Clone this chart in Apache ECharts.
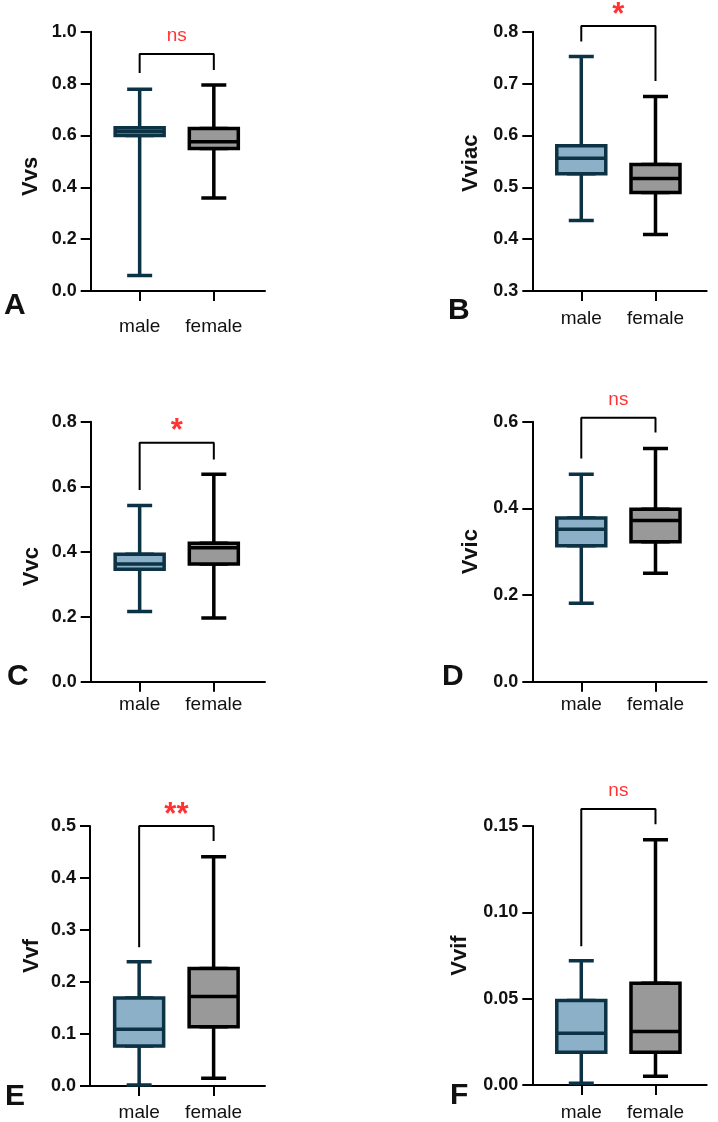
<!DOCTYPE html>
<html><head><meta charset="utf-8">
<script src="https://cdn.jsdelivr.net/npm/echarts@6/dist/echarts.min.js"></script>
<style>html,body{margin:0;padding:0;background:#fff}#c{width:718px;height:1122px}</style>
</head><body><div id="c"></div>
<script>
// ---------- data ----------
const categories = ['male', 'female'];
const yNames = ['Vvs', 'Vviac', 'Vvc', 'Vvic', 'Vvf', 'Vvif'];
const panelLetters = ['A', 'B', 'C', 'D', 'E', 'F'];
// five-number summaries [min, Q1, median, Q3, max]
const vvsMale     = [0.060, 0.600, 0.615, 0.630, 0.778];
const vvsFemale   = [0.359, 0.550, 0.576, 0.627, 0.794];
const vviacMale   = [0.436, 0.526, 0.556, 0.580, 0.752];
const vviacFemale = [0.409, 0.490, 0.517, 0.544, 0.675];
const vvcMale     = [0.216, 0.346, 0.362, 0.392, 0.542];
const vvcFemale   = [0.196, 0.362, 0.412, 0.426, 0.638];
const vvicMale    = [0.181, 0.314, 0.352, 0.378, 0.479];
const vvicFemale  = [0.250, 0.323, 0.372, 0.398, 0.538];
const vvfMale     = [0.002, 0.077, 0.109, 0.169, 0.239];
const vvfFemale   = [0.015, 0.114, 0.172, 0.226, 0.441];
const vvifMale    = [0.001, 0.019, 0.030, 0.049, 0.072];
const vvifFemale  = [0.005, 0.019, 0.031, 0.059, 0.142];
// y axes [min, max, interval]
const vvsAxis   = [0, 1.0, 0.2];
const vviacAxis = [0.3, 0.8, 0.1];
const vvcAxis   = [0, 0.8, 0.2];
const vvicAxis  = [0, 0.6, 0.2];
const vvfAxis   = [0, 0.5, 0.1];
const vvifAxis  = [0, 0.15, 0.05];
const tickDecimals = [1, 1, 1, 1, 1, 2];
// significance brackets [male leg end, bracket top, female leg end]
const vvsBracket   = [0.841, 0.914, 0.852];
const vviacBracket = [0.781, 0.811, 0.705];
const vvcBracket   = [0.590, 0.735, 0.684];
const vvicBracket  = [0.515, 0.609, 0.575];
const vvfBracket   = [0.267, 0.500, 0.471];
const vvifBracket  = [0.0804, 0.1598, 0.151];
const sigLabels = ['ns', '*', '*', 'ns', '**', 'ns'];

const maleSets   = [vvsMale, vviacMale, vvcMale, vvicMale, vvfMale, vvifMale];
const femaleSets = [vvsFemale, vviacFemale, vvcFemale, vvicFemale, vvfFemale, vvifFemale];
const axes       = [vvsAxis, vviacAxis, vvcAxis, vvicAxis, vvfAxis, vvifAxis];
const brackets   = [vvsBracket, vviacBracket, vvcBracket, vvicBracket, vvfBracket, vvifBracket];

// ---------- layout / style ----------
const grids = [
  {left: 90.7, top: 31.7, width: 174.3, height: 259.3},
  {left: 532.3, top: 31.7, width: 174.4, height: 259.3},
  {left: 90.7, top: 421.7, width: 174.3, height: 260},
  {left: 532.3, top: 421.7, width: 174.4, height: 260},
  {left: 90, top: 826, width: 175, height: 260},
  {left: 532.3, top: 826, width: 174.4, height: 260}
];
const xLabelMargins = [26, 18, 14, 14, 17, 18];
const nameGaps = [49, 50, 48, 50, 47, 61];
const nameShift = [30, 4, 30, 0, 0, 0];
const letterPos = [[4, 291], [448, 296], [7, 662], [442, 662], [5, 1082], [450, 1081]];
const X_MIN = 0.34, X_MAX = 2.69;
const MALE_BORDER = '#0c3345', MALE_FILL = '#8db0c9';
const FEMALE_BORDER = '#000000', FEMALE_FILL = '#999999';
const FONT = 'Liberation Sans, Arial, sans-serif';

const option = {
  animation: false,
  backgroundColor: '#fff',
  title: [], grid: [], xAxis: [], yAxis: [], series: []
};

for (let i = 0; i < 6; i++) {
  const g = grids[i];
  option.grid.push({left: g.left, top: g.top, width: g.width, height: g.height, containLabel: false});
  option.title.push({
    text: panelLetters[i], left: letterPos[i][0], top: letterPos[i][1], padding: 0,
    textStyle: {fontSize: 30, fontWeight: 'bold', color: '#111', fontFamily: FONT}
  });
  // visible x axis
  option.xAxis.push({
    type: 'value', gridIndex: i, min: X_MIN, max: X_MAX,
    splitLine: {show: false},
    axisLine: {show: true, onZero: false, lineStyle: {color: '#000', width: 2}},
    axisTick: {show: true, customValues: [1, 2], length: 10, lineStyle: {color: '#000', width: 2}},
    axisLabel: {show: true, customValues: [1, 2], margin: xLabelMargins[i],
      formatter: v => categories[Math.round(v) - 1] || '',
      fontSize: 19, color: '#111', fontFamily: FONT}
  });
  // hidden x axis for whiskers
  option.xAxis.push({type: 'value', gridIndex: i, min: X_MIN, max: X_MAX, show: false});
  const ax = axes[i];
  option.yAxis.push({
    type: 'value', gridIndex: i, min: ax[0], max: ax[1], interval: ax[2],
    splitLine: {show: false},
    axisLine: {show: true, onZero: false, lineStyle: {color: '#000', width: 2}},
    axisTick: {show: true, length: 10, lineStyle: {color: '#000', width: 2}},
    axisLabel: {margin: 14, fontSize: 18, fontWeight: 'bold', color: '#111', fontFamily: FONT,
      formatter: v => v.toFixed(tickDecimals[i])},
    name: yNames[i], nameLocation: 'middle', nameGap: nameGaps[i],
    nameTextStyle: {fontSize: 22, fontWeight: 'bold', color: '#111', fontFamily: FONT,
      padding: [0, nameShift[i], 0, 0]}
  });
  const m = maleSets[i], f = femaleSets[i];
  const maleStyle = {color: MALE_FILL, borderColor: MALE_BORDER, borderWidth: 3.5};
  const femaleStyle = {color: FEMALE_FILL, borderColor: FEMALE_BORDER, borderWidth: 3.5};
  // whiskers (narrow caps)
  option.series.push({
    type: 'boxplot', xAxisIndex: 2 * i + 1, yAxisIndex: i, z: 2, silent: true,
    boxWidth: [25, 25],
    data: [
      {value: [1].concat(m), itemStyle: maleStyle},
      {value: [2].concat(f), itemStyle: femaleStyle}
    ]
  });
  // boxes
  option.series.push({
    type: 'boxplot', xAxisIndex: 2 * i, yAxisIndex: i, z: 3, silent: true,
    boxWidth: [49, 49],
    data: [
      {value: [1, m[1], m[1], m[2], m[3], m[3]], itemStyle: maleStyle},
      {value: [2, f[1], f[1], f[2], f[3], f[3]], itemStyle: femaleStyle}
    ]
  });
  const b = brackets[i];
  option.series.push({
    type: 'line', xAxisIndex: 2 * i, yAxisIndex: i, z: 4, silent: true, clip: false,
    symbol: 'none', lineStyle: {color: '#000', width: 2},
    data: [[1, b[0]], [1, b[1]], [2, b[1]], [2, b[2]]]
  });
  const isStar = sigLabels[i].indexOf('*') >= 0;
  option.series.push({
    type: 'scatter', xAxisIndex: 2 * i, yAxisIndex: i, z: 5, silent: true, clip: false,
    symbolSize: 1, itemStyle: {color: 'rgba(0,0,0,0)'},
    label: {show: true, position: 'inside', formatter: sigLabels[i],
      offset: isStar ? [0, -11] : [0, -18],
      color: '#ff0000', fontFamily: FONT,
      fontSize: isStar ? 31 : 19, fontWeight: isStar ? 'bold' : 'normal'},
    data: [[1.5, b[1]]]
  });
}

const chart = echarts.init(document.getElementById('c'), null, {renderer: 'canvas'});
chart.setOption(option);
</script>
</body></html>
